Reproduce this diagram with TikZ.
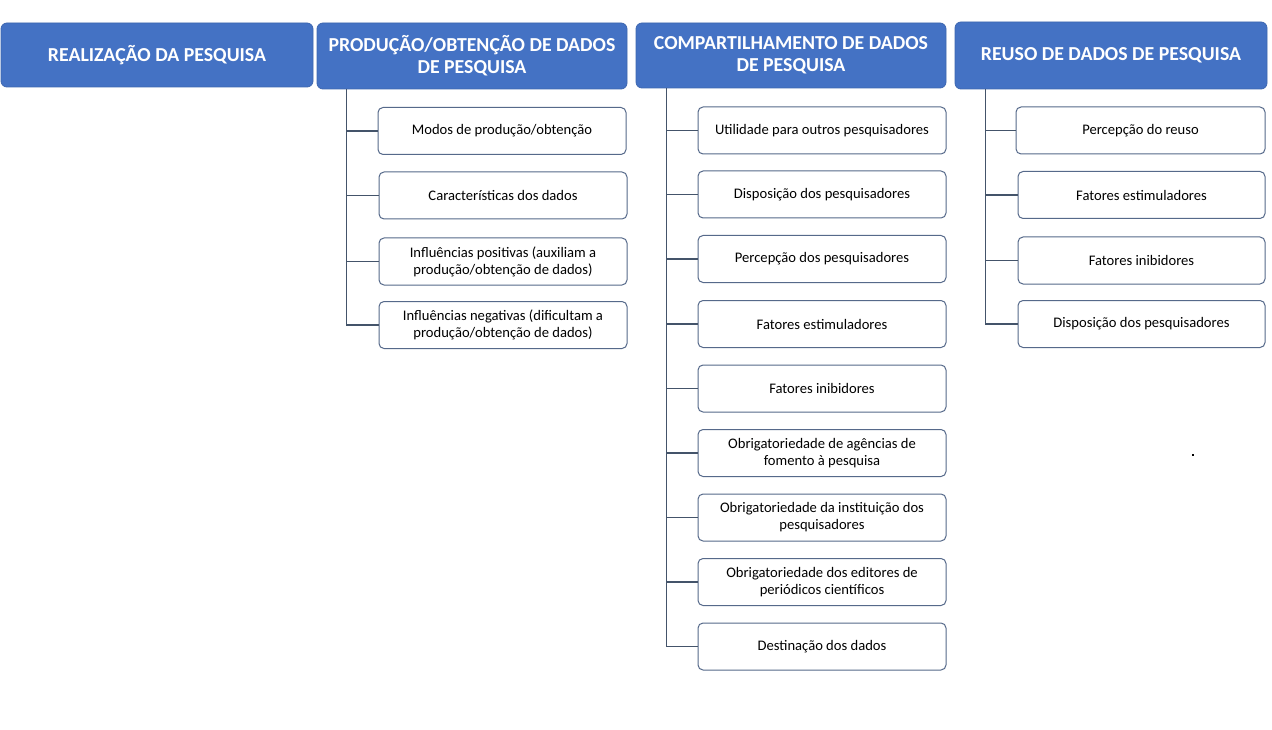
\documentclass[tikz,border=0pt]{standalone}
\usepackage{fontspec}
\setmainfont{Carlito}
\definecolor{hdr}{HTML}{4472C4}
\definecolor{bord}{HTML}{56698A}
\definecolor{conn}{HTML}{44546A}
\begin{document}
\begin{tikzpicture}[x=1pt,y=-1pt,
  hdrbox/.style={draw=hdr!90!black,fill=hdr,rounded corners=6pt,inner sep=0pt,align=center,
     text=white,font=\bfseries\fontsize{19.8}{22}\selectfont,line width=0.8pt},
  childbox/.style={draw=bord,fill=white,rounded corners=5pt,inner sep=0pt,align=center,
     font=\fontsize{14.6}{17}\selectfont,line width=1pt},
  link/.style={draw=conn,line width=1.1pt}]
\useasboundingbox (0,0) rectangle (1272,730);
\fill[white] (0,0) rectangle (1272,730);
% headers
\node[hdrbox,minimum width=312pt,minimum height=64pt] (h1) at (157,55) {REALIZAÇÃO DA PESQUISA};
\node[hdrbox,minimum width=310pt,minimum height=66pt] (h2) at (472,56) {PRODUÇÃO/OBTENÇÃO DE DADOS\\DE PESQUISA};
\node[hdrbox,minimum width=310pt,minimum height=65pt] (h3) at (791,55.5) {COMPARTILHAMENTO DE DADOS\\DE PESQUISA};
\node[hdrbox,minimum width=312pt,minimum height=67pt] (h4) at (1111,55.5) {REUSO DE DADOS DE PESQUISA};
% column 2
\begin{scope}[every node/.style={childbox,minimum width=248pt,minimum height=47pt}]
\node (a1) at (502,131) {Modos de produção/obtenção};
\node (a2) at (503,195.5) {Características dos dados};
\node (a3) at (503,261.5) {Influências positivas (auxiliam a\\produção/obtenção de dados)};
\node (a4) at (503,325) {Influências negativas (dificultam a\\produção/obtenção de dados)};
% column 3
\node (b1) at (822,130.5) {Utilidade para outros pesquisadores};
\node (b2) at (822,194.5) {Disposição dos pesquisadores};
\node (b3) at (822,259) {Percepção dos pesquisadores};
\node (b4) at (822,324) {Fatores estimuladores};
\node (b5) at (822,388.5) {Fatores inibidores};
\node (b6) at (822,453) {Obrigatoriedade de agências de\\fomento à pesquisa};
\node (b7) at (822,517.5) {Obrigatoriedade da instituição dos\\pesquisadores};
\node (b8) at (822,582) {Obrigatoriedade dos editores de\\periódicos científicos};
\node (b9) at (822,646.5) {Destinação dos dados};
% column 4
\node[minimum width=249pt] (c1) at (1140.5,130.5) {Percepção do reuso};
\node[minimum width=247pt] (c2) at (1141.5,195) {Fatores estimuladores};
\node[minimum width=247pt] (c3) at (1141.5,260.5) {Fatores inibidores};
\node[minimum width=247pt] (c4) at (1141.5,324) {Disposição dos pesquisadores};
\end{scope}
% trunk coordinates
\coordinate (t2) at ([xshift=30pt]h2.south west);
\coordinate (t3) at ([xshift=31pt]h3.south west);
\coordinate (t4) at ([xshift=31pt]h4.south west);
\foreach \n in {a1,a2,a3,a4} \draw[link] (t2) |- (\n.west);
\foreach \n in {b1,b2,b3,b4,b5,b6,b7,b8,b9} \draw[link] (t3) |- (\n.west);
\foreach \n in {c1,c2,c3,c4} \draw[link] (t4) |- (\n.west);
% stray dot
\node[fill=black,inner sep=0pt,minimum size=1.4pt] (dot) at (1193,455) {};
\end{tikzpicture}
\end{document}
